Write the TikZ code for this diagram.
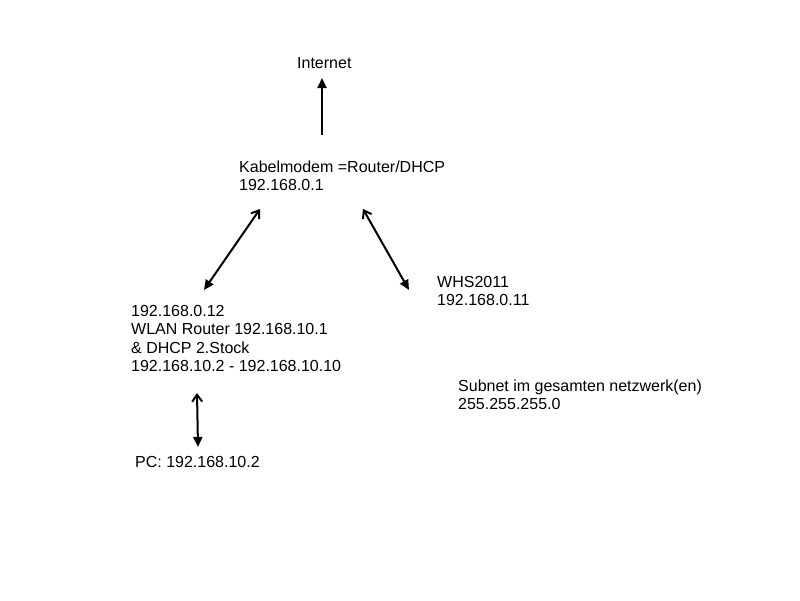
\documentclass[tikz,border=0pt]{standalone}
\usepackage{fontspec}
\setmainfont{Liberation Sans}
\usetikzlibrary{arrows.meta}
\begin{document}
\begin{tikzpicture}[x=1pt,y=-1pt,
  lbl/.style={inner sep=0pt,anchor=base west,align=left,font=\fontsize{16}{18.5}\selectfont},
  link/.style={line width=2pt,{Straight Barb[length=7pt,width=10pt,line width=2pt]}-{Triangle[length=10pt,width=9pt]}},
  uplink/.style={line width=2pt,-{Triangle[length=10pt,width=9pt]}}]
\useasboundingbox[fill=white] (0,0) rectangle (800,600);
\node[lbl] (internet) at (297,68) {Internet};
\node[lbl] (modem) at (239,190.5) {Kabelmodem =Router/DHCP\\192.168.0.1};
\node[lbl] (whs) at (437,305.5) {WHS2011\\192.168.0.11};
\node[lbl] (wlan) at (131,371.5) {192.168.0.12\\WLAN Router 192.168.10.1\\\& DHCP 2.Stock\\192.168.10.2 - 192.168.10.10};
\node[lbl] (subnet) at (458,409.5) {Subnet im gesamten netzwerk(en)\\255.255.255.0};
\node[lbl] (pc) at (135,467) {PC: 192.168.10.2};
\coordinate (m0) at (322,135); \coordinate (i0) at (322,78);
\coordinate (ml) at (260,209); \coordinate (wl) at (204,290);
\coordinate (mr) at (363,209); \coordinate (wr) at (409,290);
\coordinate (wp) at (197,393); \coordinate (pp) at (198,447);
\draw[uplink] (m0) -- (i0);
\draw[link] (ml) -- (wl);
\draw[link] (mr) -- (wr);
\draw[link] (wp) -- (pp);
\end{tikzpicture}
\end{document}
